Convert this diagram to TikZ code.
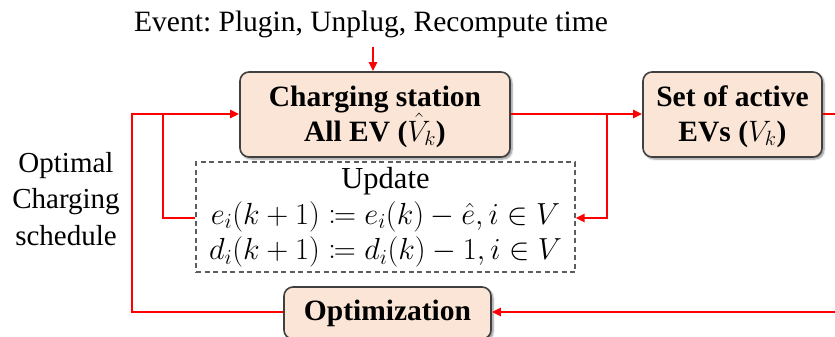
\RequirePackage{fix-cm}
\documentclass[tikz,border=0pt]{standalone}
\usepackage{fontspec}
\usepackage{mathtools}
\setmainfont{Liberation Serif}
\frenchspacing
\usetikzlibrary{arrows.meta,shadows.blur}
\definecolor{peach}{HTML}{FBE5D6}
\definecolor{edge}{HTML}{404040}
\definecolor{flow}{HTML}{FF0000}
\tikzset{
  blockbox/.style={draw=edge, line width=1.6pt, fill=peach, rounded corners=9pt,
    font=\bfseries\fontsize{29.5}{34.5}\selectfont, align=center, inner sep=0pt,
    blur shadow={shadow xshift=2pt, shadow yshift=-2pt, shadow blur steps=6, shadow opacity=45}},
  updbox/.style={draw=edge!85, dash pattern=on 5pt off 3.5pt, line width=1.2pt, inner sep=0pt},
  flowline/.style={draw=flow, line width=2.6pt},
  flowarrow/.style={flowline, -{Triangle[length=9pt,width=8pt]}},
  plain/.style={font=\fontsize{29.5}{36.5}\selectfont, align=center}
}
\begin{document}
\begin{tikzpicture}[x=1pt, y=-1pt]
\useasboundingbox (0,0) rectangle (835,337);
% blocks
\node[blockbox, minimum width=270pt, minimum height=85pt] (cs) at (375,114.5)
  {\rule{0pt}{25pt}Charging station\\All EV ($\hat{V}_k$)};
\node[blockbox, minimum width=179pt, minimum height=85pt] (av) at (732.5,114.5)
  {\rule{0pt}{25pt}Set of active\\EVs ($V_k$)};
\node[blockbox, minimum width=207pt, minimum height=52pt] (opt) at (387.5,313)
  {Optimization};
% update rule
\node[updbox, minimum width=379pt, minimum height=110pt] (upd) at (385.5,217) {};
\node[plain, font=\fontsize{30.5}{35.5}\selectfont] (updtxt) at (385.5,217.5)
  {Update\\
   $e_i(k+1) \coloneqq e_i(k) - \hat{e}, i \in V$\\
   $d_i(k+1) \coloneqq d_i(k) - 1, i \in V$};
% labels
\node[plain] (ev) at (371,24) {Event: Plugin, Unplug, Recompute time};
\node[plain, font=\fontsize{29}{36.5}\selectfont] (sched) at (66,199) {Optimal\\Charging\\schedule};
% junction points
\coordinate (evtip) at (373,47);
\coordinate (j1) at (607,114);
\coordinate (j1d) at (607,218);
\coordinate (j2) at (163,114);
\coordinate (j2d) at (163,218);
\coordinate (lc) at (132,114);
\coordinate (lb) at (132,312);
\coordinate (r1) at (836,114);
\coordinate (r2) at (836,312);
% connectors
\draw[flowarrow] (evtip) -- (cs.north -| evtip);
\draw[flowarrow] (cs.east |- j1) -- (av.west |- j1);
\draw[flowarrow] (j1) -- (j1d) -- (upd.east |- j1d);
\draw[flowline] (av.east |- r1) -- (r1);
\draw[flowarrow] (r2) -- (opt.east |- r2);
\draw[flowarrow] (opt.west |- lb) -- (lb) -- (lc) -- (cs.west |- lc);
\draw[flowline] (j2) -- (j2d) -- (upd.west |- j2d);
\end{tikzpicture}
\end{document}
